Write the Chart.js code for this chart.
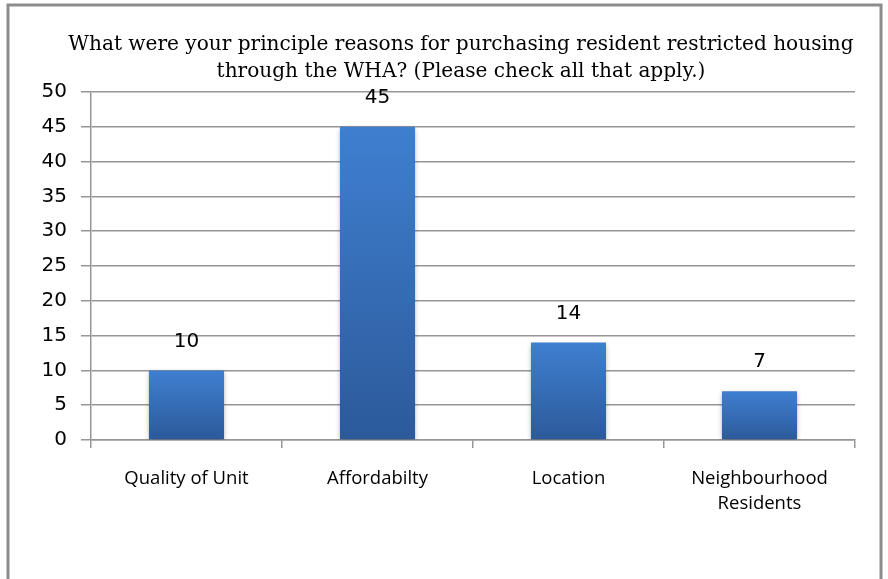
<!DOCTYPE html>
<html>
<head>
<meta charset="utf-8">
<script src="https://cdn.jsdelivr.net/npm/chart.js@4/dist/chart.umd.min.js"></script>
<style>
  html, body { margin: 0; padding: 0; background: #fff; }
  #wrap { width: 888px; height: 579px; position: relative; }
</style>
</head>
<body>
<div id="wrap"><canvas id="reasons__chart" width="888" height="579"></canvas></div>
<script>
// data
var categories = [["Quality of Unit"], ["Affordabilty"], ["Location"], ["Neighbourhood", "Residents"]];
var responses = [10, 45, 14, 7];
var titleLines = [
    "What were your principle reasons for purchasing resident restricted housing",
    "through the WHA? (Please check all that apply.)"
];
var yMin = 0, yMax = 50, yStep = 5;

// frame + title drawn straight on the canvas
var framePlugin = {
    id: 'frame',
    beforeDraw: function(chart) {
        var c = chart.ctx;
        c.save();
        c.fillStyle = '#fff';
        c.fillRect(0, 0, chart.width, chart.height);
        c.strokeStyle = '#8c8c8c';
        c.lineWidth = 3;
        c.strokeRect(8, 5, 873, 620);
        c.fillStyle = '#000';
        c.font = '20.1px "DejaVu Serif"';
        c.textAlign = 'center';
        c.textBaseline = 'middle';
        c.fillText(titleLines[0], 461, 45);
        c.fillText(titleLines[1], 461, 72);
        c.restore();
    }
};

// value labels above the bars
var valuePlugin = {
    id: 'values',
    afterDatasetsDraw: function(chart) {
        var c = chart.ctx;
        var meta = chart.getDatasetMeta(0);
        c.save();
        c.fillStyle = '#000';
        c.font = '20px "DejaVu Sans"';
        c.textAlign = 'center';
        c.textBaseline = 'middle';
        meta.data.forEach(function(bar, i) {
            c.fillText(responses[i], bar.x, bar.y - 29);
        });
        c.restore();
    }
};

// soft shadow under bars
var shadowPlugin = {
    id: 'barShadow',
    beforeDatasetsDraw: function(chart) {
        var c = chart.ctx;
        c.save();
        c.shadowColor = 'rgba(0,0,0,0.35)';
        c.shadowBlur = 5;
        c.shadowOffsetY = 2;
    },
    afterDatasetsDraw: function(chart) {
        chart.ctx.restore();
    }
};

function barFill(context) {
    var chart = context.chart;
    var area = chart.chartArea;
    if (!area) return '#3a74c0';
    var bottom = area.bottom;
    var top = chart.scales.y.getPixelForValue(responses[context.dataIndex] || 0);
    var g = chart.ctx.createLinearGradient(0, top, 0, bottom);
    g.addColorStop(0, '#3f7fd0');
    g.addColorStop(1, '#2c5a9a');
    return g;
}

var ctx = document.getElementById("reasons__chart");
new Chart(ctx, {
    type: 'bar',
    data: {
        labels: categories,
        datasets: [{
            label: "Responses",
            data: responses,
            backgroundColor: barFill,
            borderWidth: 0,
            barPercentage: 0.393,
            categoryPercentage: 1
        }]
    },
    options: {
        responsive: false,
        animation: false,
        events: [],
        layout: { padding: { top: 92, right: 33, left: 0, bottom: 0 } },
        plugins: {
            legend: { display: false },
            title: { display: false },
            tooltip: { enabled: false }
        },
        scales: {
            y: {
                min: yMin,
                max: yMax,
                ticks: {
                    stepSize: yStep,
                    color: '#000',
                    padding: 14,
                    font: { family: 'DejaVu Sans', size: 20 }
                },
                grid: { color: '#969696', lineWidth: 1.5, tickLength: 10 },
                border: { color: '#969696', width: 1.5 },
                afterFit: function(scale) { scale.width = 91; }
            },
            x: {
                ticks: {
                    color: '#000',
                    padding: 18,
                    font: { family: 'Open Sans', size: 18.5, lineHeight: 1.35 },
                    maxRotation: 0
                },
                grid: { drawOnChartArea: false, color: '#969696', lineWidth: 1.5, tickLength: 8, offset: true },
                border: { color: '#969696', width: 1.5 },
                afterFit: function(scale) { scale.height = 139; }
            }
        }
    },
    plugins: [framePlugin, shadowPlugin, valuePlugin]
});
</script>
</body>
</html>
